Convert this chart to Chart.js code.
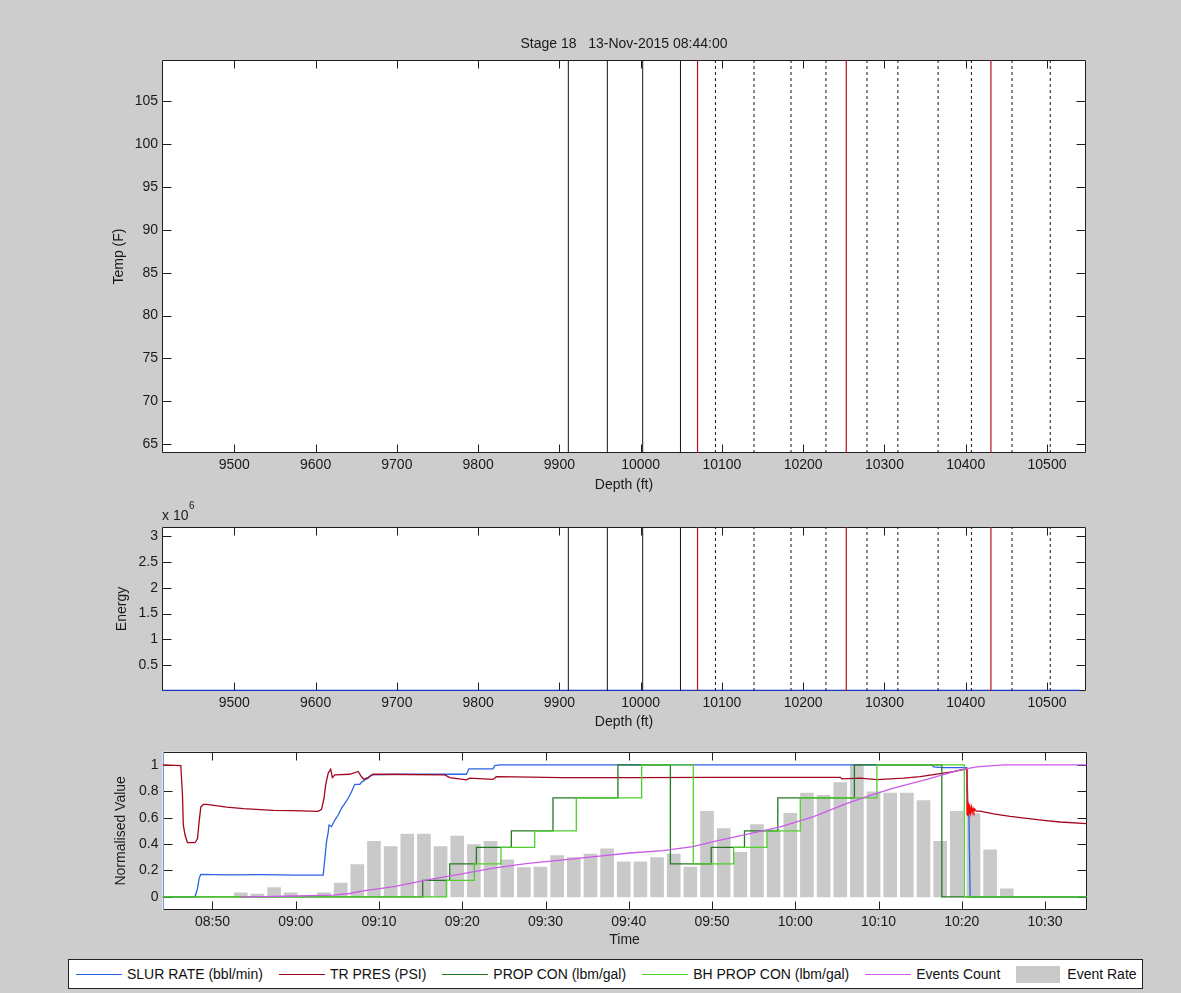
<!DOCTYPE html>
<html>
<head>
<meta charset="utf-8">
<title>Stage 18 – 13-Nov-2015</title>
<script src="https://cdn.jsdelivr.net/npm/chart.js@4/dist/chart.umd.min.js"></script>
<style>
  html, body { margin: 0; padding: 0; }
  body {
    width: 1181px; height: 993px; overflow: hidden; position: relative;
    background: #cdcdcd;
    font-family: 'Liberation Sans', Arial, Helvetica, sans-serif;
  }
  .panel { position: absolute; left: 0; width: 1181px; }
  #legend {
    position: absolute; left: 68px; top: 959px; width: 1066px; height: 28px;
    padding-left: 7px; background: #fff; border: 1px solid #222;
    display: flex; align-items: center; font-size: 14px; color: #111;
  }
  #legend .item { display: flex; align-items: center; margin-right: 16px; white-space: pre; }
  #legend .line { display: inline-block; width: 46px; height: 0; border-top: 1.5px solid; margin-right: 5px; }
  #legend .box { display: inline-block; width: 44px; height: 17px; margin-right: 7px; }
</style>
</head>
<body>
<div class="panel" style="top:0;height:500px"><canvas id="tempChart"></canvas></div>
<div class="panel" style="top:500px;height:235px"><canvas id="energyChart"></canvas></div>
<div class="panel" style="top:735px;height:220px"><canvas id="pumpChart"></canvas></div>
<div id="legend"></div>

<script>
// ---------- depth panels ----------
const DEPTH_MIN = 9411;
const DEPTH_MAX = 10548;
const depthTicks = [9500, 9600, 9700, 9800, 9900, 10000, 10100, 10200, 10300, 10400, 10500];

const TEMP_MIN = 63.98;
const TEMP_MAX = 109.8;
const tempTicks = [65, 70, 75, 80, 85, 90, 95, 100, 105];

const ENERGY_MAX = 3.175e6;
const energyTicks = [0.5e6, 1e6, 1.5e6, 2e6, 2.5e6, 3e6];

// marker depths (ft)
const solidDepths = [9911, 9959, 10002.5, 10049];
const redDepths = [10070, 10253, 10431];
const dashedDepths = [10092, 10139.5, 10185, 10228, 10278.5, 10316.5, 10366, 10407, 10457, 10504];

// acoustic energy along depth
const energyDepth = [9400, 9600, 9800, 10000, 10200, 10400, 10540];
const energyValue = [0, 0, 0, 0, 0, 0, 0];

// ---------- time panel (minutes since midnight) ----------
const TIME_MIN = 524;   // 08:44
const TIME_MAX = 635;   // 10:35
const timeTicks = [530, 540, 550, 560, 570, 580, 590, 600, 610, 620, 630];
const NORM_MIN = -0.1;
const NORM_MAX = 1.1;
const normTicks = [0, 0.2, 0.4, 0.6, 0.8, 1];

const slurTime = [524.0, 527.9, 528.2, 528.4, 528.6, 532.0, 536.0, 540.0, 543.3, 543.5,
                  543.7, 543.9, 544.0, 544.3, 544.7, 545.1, 545.5, 545.9, 546.3, 546.7,
                  547.1, 547.7, 547.9, 548.3, 548.7, 549.1, 552.0, 556.0, 560.5, 560.8,
                  563.7, 563.9, 564.5, 580.0, 600.0, 616.4, 616.6, 617.6, 620.6, 620.75,
                  620.85, 621.0, 635.0];
const slurRate = [0, 0, 0.06, 0.14, 0.17, 0.166, 0.168, 0.165, 0.165, 0.291,
                  0.418, 0.489, 0.544, 0.532, 0.582, 0.62, 0.671, 0.709, 0.747, 0.797,
                  0.853, 0.853, 0.868, 0.886, 0.899, 0.924, 0.929, 0.929, 0.929, 0.97,
                  0.97, 0.995, 1.0, 1.0, 1.0, 1.0, 0.985, 0.98, 0.98, 0.66,
                  0.64, 0, 0];

const presTime = [524.0, 526.2, 526.4, 526.5, 526.7, 527.0, 527.9, 528.2, 528.4, 528.6,
                  528.9, 529.3, 531.7, 533.7, 537.3, 539.7, 542.7, 543.1, 543.4, 543.6,
                  543.9, 544.2, 544.4, 544.7, 546.5, 547.5, 547.9, 548.2, 548.7, 549.3,
                  557.9, 558.5, 560.5, 560.9, 563.7, 564.1, 566.3, 571.9, 580.7, 590.0,
                  605.4, 605.6, 607.8, 609.8, 613.0, 615.0, 617.0, 619.0, 620.6, 620.62,
                  620.67, 620.72, 620.77, 620.82, 620.87, 620.92, 620.97, 621.05, 621.15, 621.25,
                  621.35, 621.45, 621.55, 621.7, 622.2, 623.8, 625.8, 627.8, 629.8, 631.8,
                  635.0];
const presValue = [1.0, 0.995, 0.77, 0.545, 0.47, 0.41, 0.41, 0.44, 0.57, 0.68,
                   0.70, 0.70, 0.68, 0.668, 0.655, 0.653, 0.648, 0.663, 0.747, 0.85,
                   0.937, 0.967, 0.904, 0.924, 0.929, 0.95, 0.91, 0.89, 0.906, 0.929,
                   0.924, 0.904, 0.886, 0.90, 0.89, 0.91, 0.909, 0.904, 0.904, 0.906,
                   0.906, 0.894, 0.899, 0.889, 0.90, 0.911, 0.93, 0.949, 0.97, 0.62,
                   0.72, 0.61, 0.71, 0.62, 0.70, 0.63, 0.69, 0.635, 0.68, 0.64,
                   0.67, 0.645, 0.665, 0.65, 0.65, 0.628, 0.61, 0.595, 0.58, 0.567,
                   0.555];
const presBurst = [620.6, 621.8];

// proppant concentration steps (value holds until the next change)
const propTime = [524, 555.25, 558.5, 561.7, 565.9, 570.9, 578.7, 585.0, 589.9, 593.9, 597.9, 607.1, 617.6, 635];
const propCon  = [0, 0.125, 0.25, 0.375, 0.5, 0.75, 1.0, 0.25, 0.375, 0.5, 0.75, 1.0, 0, 0];
const bhTime   = [524, 558.1, 561.45, 564.65, 568.7, 573.7, 581.55, 587.75, 592.6, 596.6, 600.6, 609.8, 620.3, 635];
const bhCon    = [0, 0.125, 0.25, 0.375, 0.5, 0.75, 1.0, 0.25, 0.375, 0.5, 0.75, 1.0, 0, 0];

const countTime = [533.4, 536.1, 540.1, 544.5, 546.5, 548.1, 551.8, 555.8, 559.8, 563.9,
                   567.9, 571.9, 575.9, 580.1, 584.1, 587.7, 590.15, 594.15, 598.2, 602.2,
                   606.2, 607.8, 609.1, 611.8, 615.8, 619.8, 621.8, 623.8, 625.1, 635];
const countNorm = [0, 0.002, 0.006, 0.013, 0.025, 0.045, 0.077, 0.128, 0.172, 0.22,
                   0.253, 0.278, 0.304, 0.332, 0.35, 0.38, 0.418, 0.473, 0.53, 0.608,
                   0.709, 0.742, 0.77, 0.823, 0.89, 0.962, 0.985, 0.995, 1.0, 1.0];

// event rate, 2-minute bins (bin centres)
const rateTime = [533.4, 535.4, 537.4, 539.4, 541.4, 543.4, 545.4, 547.4, 549.4, 551.4,
                  553.4, 555.4, 557.4, 559.4, 561.4, 563.4, 565.4, 567.4, 569.4, 571.4,
                  573.4, 575.4, 577.4, 579.4, 581.4, 583.4, 585.4, 587.4, 589.4, 591.4,
                  593.4, 595.4, 597.4, 599.4, 601.4, 603.4, 605.4, 607.4, 609.4, 611.4,
                  613.4, 615.4, 617.4, 619.4, 621.4, 623.4, 625.4];
const rateNorm = [0.03, 0.02, 0.07, 0.03, 0, 0.03, 0.105, 0.245, 0.42, 0.38,
                  0.475, 0.475, 0.38, 0.46, 0.395, 0.42, 0.28, 0.222, 0.225, 0.313,
                  0.298, 0.323, 0.363, 0.265, 0.265, 0.298, 0.323, 0.225, 0.648, 0.517,
                  0.337, 0.547, 0.508, 0.632, 0.786, 0.77, 0.866, 1.0, 0.795, 0.786,
                  0.786, 0.73, 0.42, 0.648, 0.63, 0.357, 0.06];

// ---------- helpers ----------
const FONT = "'Liberation Sans', Arial, Helvetica, sans-serif";
const TEXT = '#1a1a1a';
Chart.defaults.font.family = FONT;
Chart.defaults.font.size = 14;
Chart.defaults.color = TEXT;

const pairs = (xs, ys) => xs.map((x, i) => ({ x, y: ys[i] }));

function clock(m) {
  const h = Math.floor(m / 60);
  const mm = Math.round(m - h * 60);
  return String(h).padStart(2, '0') + ':' + String(mm).padStart(2, '0');
}

function verticals(depths, lo, hi) {
  const pts = [];
  depths.forEach(d => pts.push({ x: d, y: lo }, { x: d, y: hi }, { x: d, y: null }));
  return pts;
}

function markerSets(lo, hi) {
  const base = { pointRadius: 0, spanGaps: false, tension: 0, fill: false };
  return [
    Object.assign({ data: verticals(solidDepths, lo, hi), borderColor: '#141414', borderWidth: 1 }, base),
    Object.assign({ data: verticals(redDepths, lo, hi), borderColor: '#b3101e', borderWidth: 1.2 }, base),
    Object.assign({ data: verticals(dashedDepths, lo, hi), borderColor: '#141414', borderWidth: 1, borderDash: [3, 3] }, base)
  ];
}

function xAxis(min, max, ticks, fmt, title, height, labelPad, titlePad) {
  return {
    type: 'linear', position: 'bottom', min, max, offset: false,
    afterBuildTicks: s => { s.ticks = ticks.map(v => ({ value: v })); },
    afterFit: s => { s.height = height; },
    grid: { display: false, drawTicks: false, offset: false },
    border: { display: false },
    ticks: { padding: labelPad, maxRotation: 0, autoSkip: false, color: TEXT, callback: fmt },
    title: { display: true, text: title, color: TEXT, padding: { top: 0, bottom: titlePad } }
  };
}

function yAxis(min, max, ticks, fmt, title, width, titlePad) {
  return {
    type: 'linear', position: 'left', min, max,
    afterBuildTicks: s => { s.ticks = ticks.map(v => ({ value: v })); },
    afterFit: s => { s.width = width; },
    grid: { display: false, drawTicks: false },
    border: { display: false },
    ticks: { padding: 4, autoSkip: false, color: TEXT, callback: fmt },
    title: { display: true, text: title, color: TEXT, padding: { top: titlePad, bottom: 0 } }
  };
}

// white plot area, box and inward tick marks on all four sides
const framePlugin = {
  id: 'frame',
  beforeDraw(chart) {
    const { ctx, chartArea: a } = chart;
    ctx.save();
    ctx.fillStyle = '#ffffff';
    ctx.fillRect(a.left, a.top, a.right - a.left, a.bottom - a.top);
    ctx.restore();
  },
  beforeDatasetsDraw(chart, args, opts) {
    const { ctx, chartArea: a, scales: { x, y } } = chart;
    const L = Math.round(a.left) + 0.5, R = Math.round(a.right) - 0.5;
    const T = Math.round(a.top) + 0.5, B = Math.round(a.bottom) - 0.5;
    ctx.save();
    ctx.lineWidth = 1;
    ctx.strokeStyle = '#1e1e1e';
    ctx.beginPath();
    x.ticks.forEach(t => {
      const px = Math.round(x.getPixelForValue(t.value)) + 0.5;
      ctx.moveTo(px, T); ctx.lineTo(px, T + 8);
      ctx.moveTo(px, B); ctx.lineTo(px, B - 8);
    });
    y.ticks.forEach(t => {
      const py = Math.round(y.getPixelForValue(t.value)) + 0.5;
      ctx.moveTo(L, py); ctx.lineTo(L + 9, py);
      ctx.moveTo(R, py); ctx.lineTo(R - 9, py);
    });
    ctx.moveTo(L, T); ctx.lineTo(R, T); ctx.lineTo(R, B); ctx.lineTo(L, B);
    ctx.stroke();
    ctx.beginPath();
    ctx.strokeStyle = (opts && opts.leftColor) || '#1e1e1e';
    ctx.moveTo(L, B); ctx.lineTo(L, T);
    ctx.stroke();
    ctx.restore();
  }
};

const common = {
  responsive: true,
  maintainAspectRatio: false,
  animation: false,
  devicePixelRatio: 1,
  events: [],
  elements: { point: { radius: 0 }, line: { tension: 0 } }
};

// ---------- temperature vs depth ----------
new Chart(document.getElementById('tempChart'), {
  type: 'line',
  data: { datasets: markerSets(TEMP_MIN, TEMP_MAX) },
  options: Object.assign({}, common, {
    layout: { autoPadding: false, padding: { left: 0, right: 95, top: 0, bottom: 0 } },
    plugins: {
      legend: { display: false },
      tooltip: { enabled: false },
      title: {
        display: true, fullSize: false, text: 'Stage 18   13-Nov-2015 08:44:00',
        color: TEXT, font: { size: 14, weight: 'normal' }, padding: { top: 35.6, bottom: 7.6 }
      }
    },
    scales: {
      x: xAxis(DEPTH_MIN, DEPTH_MAX, depthTicks, v => String(v), 'Depth (ft)', 47, 3.6, 6.6),
      y: yAxis(TEMP_MIN, TEMP_MAX, tempTicks, v => String(v), 'Temp (F)', 162, 111)
    }
  }),
  plugins: [framePlugin]
});

// ---------- energy vs depth ----------
const exponentPlugin = {
  id: 'exponent',
  afterDraw(chart) {
    const { ctx, chartArea: a } = chart;
    ctx.save();
    ctx.fillStyle = TEXT;
    ctx.textBaseline = 'middle';
    ctx.textAlign = 'left';
    ctx.font = '14px ' + FONT;
    ctx.fillText('x 10', a.left, a.top - 11);
    const w = ctx.measureText('x 10').width;
    ctx.font = '10px ' + FONT;
    ctx.fillText('6', a.left + w + 0.5, a.top - 21);
    ctx.restore();
  }
};

const energySets = markerSets(0, ENERGY_MAX);
energySets.push({
  data: pairs(energyDepth, energyValue),
  borderColor: '#1b33c4', borderWidth: 2.4, pointRadius: 0, fill: false
});

new Chart(document.getElementById('energyChart'), {
  type: 'line',
  data: { datasets: energySets },
  options: Object.assign({}, common, {
    layout: { autoPadding: false, padding: { left: 0, right: 95, top: 27, bottom: 0 } },
    plugins: { legend: { display: false }, tooltip: { enabled: false } },
    scales: {
      x: xAxis(DEPTH_MIN, DEPTH_MAX, depthTicks, v => String(v), 'Depth (ft)', 44, 3.3, 4.9),
      y: yAxis(0, ENERGY_MAX, energyTicks, v => String(v / 1e6), 'Energy', 162, 114)
    }
  }),
  plugins: [framePlugin, exponentPlugin]
});

// ---------- normalised pumping data vs time ----------
const lineBase = { pointRadius: 0, borderWidth: 1.3, fill: false, tension: 0 };
const pumpChart = new Chart(document.getElementById('pumpChart'), {
  type: 'line',
  data: {
    datasets: [
      Object.assign({ label: 'SLUR RATE (bbl/min)', data: pairs(slurTime, slurRate), borderColor: '#2d62e2', order: 6 }, lineBase),
      Object.assign({
        label: 'TR PRES (PSI)', data: pairs(presTime, presValue), borderColor: '#a3051c', order: 5,
        segment: { borderColor: c => (c.p0.parsed.x >= presBurst[0] && c.p1.parsed.x <= presBurst[1]) ? '#f00a0a' : undefined }
      }, lineBase),
      Object.assign({ label: 'PROP CON (lbm/gal)', data: pairs(propTime, propCon), stepped: 'before', borderColor: '#237a1f', order: 4 }, lineBase),
      Object.assign({ label: 'BH PROP CON (lbm/gal)', data: pairs(bhTime, bhCon), stepped: 'before', borderColor: '#4fd02c', order: 3 }, lineBase),
      Object.assign({ label: 'Events Count', data: pairs(countTime, countNorm), borderColor: '#cc5ae9', order: 2 }, lineBase),
      { type: 'bar', label: 'Event Rate', data: pairs(rateTime, rateNorm), backgroundColor: '#c9c9c9', borderWidth: 0, barThickness: 13, order: 10 }
    ]
  },
  options: Object.assign({}, common, {
    layout: { autoPadding: false, padding: { left: 0, right: 94.3, top: 16.7, bottom: 0 } },
    plugins: { legend: { display: false }, tooltip: { enabled: false }, frame: { leftColor: '#7395e4' } },
    scales: {
      x: xAxis(TIME_MIN, TIME_MAX, timeTicks, v => clock(v), 'Time', 45, 3.3, 6.6),
      y: yAxis(NORM_MIN, NORM_MAX, normTicks, v => String(v), 'Normalised Value', 162.5, 113)
    }
  }),
  plugins: [framePlugin]
});

// ---------- legend built from the pumping datasets ----------
const legendEl = document.getElementById('legend');
pumpChart.data.datasets.forEach(ds => {
  const item = document.createElement('div');
  item.className = 'item';
  const sample = document.createElement('span');
  if (ds.type === 'bar') {
    sample.className = 'box';
    sample.style.background = ds.backgroundColor;
  } else {
    sample.className = 'line';
    sample.style.borderTopColor = ds.borderColor;
  }
  const label = document.createElement('span');
  label.textContent = ds.label;
  item.appendChild(sample);
  item.appendChild(label);
  legendEl.appendChild(item);
});
</script>
</body>
</html>
